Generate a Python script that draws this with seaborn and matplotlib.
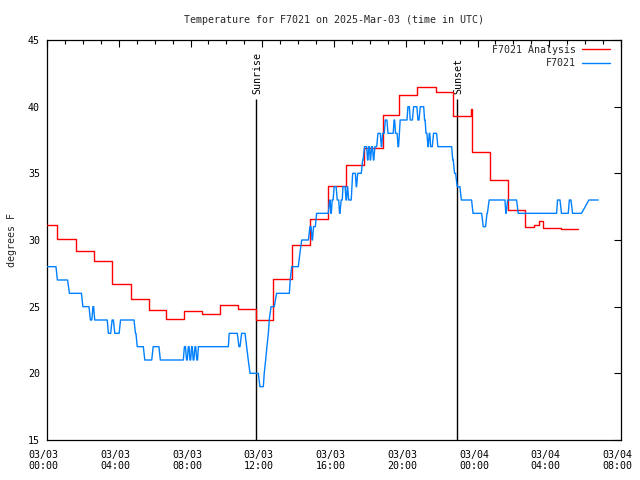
import numpy as np
import pandas as pd
import matplotlib
matplotlib.use("Agg")
import matplotlib.pyplot as plt
import matplotlib.transforms as mtransforms
import seaborn as sns

# ---------------- data (hours since 2025-03-03 00:00 UTC) ----------------
title = "Temperature for F7021 on 2025-Mar-03 (time in UTC)"
ylabel = "degrees F"

ana_label = "F7021 Analysis"
ana_hours = [0.00, 0.58, 1.63, 2.62, 3.64, 4.66, 5.69, 6.63, 7.65, 8.66, 9.64,
             10.66, 11.65, 12.61, 13.64, 14.66, 15.64, 16.67, 17.67, 18.71,
             19.64, 20.64, 21.67, 22.65, 23.62, 23.67, 24.69, 25.71, 26.64,
             27.15, 27.45, 27.65, 28.65, 29.62]
ana_temp = [31.1, 30.05, 29.15, 28.4, 26.7, 25.6, 24.75, 24.05, 24.65, 24.45,
            25.15, 24.8, 24.0, 27.1, 29.6, 31.55, 34.05, 35.6, 36.9, 39.4,
            40.9, 41.5, 41.1, 39.3, 39.8, 36.6, 34.5, 32.25, 30.95, 31.1,
            31.4, 30.9, 30.8, 30.8]

obs_label = "F7021"
obs_start = [0.00, 0.58, 1.25, 2.00, 2.42, 2.56, 2.66, 3.42, 3.63, 3.78, 4.10,
             4.93, 5.03, 5.45, 5.92, 6.32, 7.66, 7.78, 7.88, 7.97, 8.06, 8.15,
             8.25, 8.35, 8.44, 10.16, 10.70, 10.85, 11.13, 11.22, 11.32, 11.87,
             12.11, 12.19, 12.26, 12.34, 12.39, 12.49, 12.80, 13.56, 13.64,
             14.10, 14.20, 14.66, 14.78, 14.86, 15.03, 15.76, 15.83, 15.90,
             16.01, 16.18, 16.31, 16.40, 16.50, 16.67, 16.74, 16.82, 17.04,
             17.24, 17.32, 17.60, 17.70, 17.87, 17.94, 18.02, 18.10, 18.20,
             18.28, 18.45, 18.64, 18.71, 18.86, 19.01, 19.35, 19.43, 19.57,
             19.69, 20.12, 20.25, 20.44, 20.68, 20.81, 21.05, 21.13, 21.24,
             21.31, 21.39, 21.55, 21.79, 22.62, 22.72, 22.87, 23.10, 23.75,
             24.32, 24.53, 24.65, 25.58, 25.68, 26.27, 28.46, 28.68, 29.12,
             29.30, 30.21]
obs_end = [0.50, 1.15, 1.92, 2.34, 2.50, 2.60, 3.36, 3.55, 3.70, 4.02, 4.85,
           4.96, 5.37, 5.84, 6.24, 7.60, 7.72, 7.82, 7.92, 8.01, 8.10, 8.19,
           8.29, 8.39, 10.11, 10.61, 10.76, 11.04, 11.13, 11.22, 11.78, 12.06,
           12.11, 12.19, 12.26, 12.34, 12.39, 12.67, 13.51, 13.56, 14.01,
           14.10, 14.57, 14.72, 14.80, 14.96, 15.68, 15.78, 15.85, 15.95,
           16.12, 16.26, 16.33, 16.46, 16.62, 16.70, 16.76, 16.96, 17.19,
           17.26, 17.52, 17.62, 17.82, 17.89, 17.98, 18.04, 18.14, 18.22,
           18.38, 18.58, 18.66, 18.80, 18.95, 19.30, 19.38, 19.52, 19.60,
           20.07, 20.20, 20.37, 20.62, 20.74, 21.00, 21.08, 21.18, 21.26,
           21.34, 21.48, 21.72, 22.56, 22.65, 22.78, 23.02, 23.67, 24.23,
           24.45, 24.55, 25.53, 25.60, 26.18, 28.41, 28.60, 29.06, 29.21,
           29.80, 30.73]
obs_temp = [28, 27, 26, 25, 24, 25, 24, 23, 24, 23, 24,
            23, 22, 21, 22, 21, 22, 21, 22, 21, 22, 21,
            22, 21, 22, 23, 22, 23, 22, 21, 20, 19,
            20, 21, 22, 23, 24, 25, 26, 27, 28,
            29, 30, 31, 30, 31, 32, 33, 32, 33,
            34, 33, 32, 33, 34, 33, 34, 33, 35,
            34, 35, 36, 37, 36, 37, 36, 37, 36,
            37, 38, 37, 38, 39, 38, 39, 38, 37,
            39, 40, 39, 40, 39, 40, 39, 38, 37,
            38, 37, 38, 37, 36, 35, 34, 33, 32,
            31, 32, 33, 32, 33, 32, 33, 32, 33,
            32, 33]

event_labels = ["Sunrise", "Sunset"]
event_hours = [11.64, 22.88]

xtick_hours = [0, 4, 8, 12, 16, 20, 24, 28, 32]
xtick_labels = ["03/03\n00:00", "03/03\n04:00", "03/03\n08:00", "03/03\n12:00",
                "03/03\n16:00", "03/03\n20:00", "03/04\n00:00", "03/04\n04:00",
                "03/04\n08:00"]
yticks = [15, 20, 25, 30, 35, 40, 45]

# ---------------- tables ----------------
ana_df = pd.DataFrame({"hour": ana_hours, "temp": ana_temp})
obs_x, obs_y = [], []
for s, e, t in zip(obs_start, obs_end, obs_temp):
    obs_x += [s, e]
    obs_y += [t, t]
obs_df = pd.DataFrame({"hour": obs_x, "temp": obs_y})

# ---------------- style ----------------
sns.set_theme(style="white")
plt.rcParams['font.family'] = ['DejaVu Sans Mono', 'DejaVu Sans']
plt.rcParams['font.size'] = 7.2
plt.rcParams['axes.edgecolor'] = 'black'
plt.rcParams['axes.linewidth'] = 0.9

fig = plt.figure(figsize=(6.4, 4.8), dpi=100)
ax = fig.add_axes([47 / 640, 40 / 480, 574 / 640, 400 / 480])

line_top = 40.57
ax.vlines(event_hours, 15, line_top, colors="black", linewidth=1.0, zorder=1)
for h, lab in zip(event_hours, event_labels):
    ax.text(h + 0.08, line_top + 0.4, lab, rotation=90, ha="center", va="bottom",
            fontsize=7.2, color="black")

sns.lineplot(data=ana_df, x="hour", y="temp", ax=ax, color="#ff0000",
             linewidth=1.0, drawstyle="steps-post", label=ana_label,
             estimator=None, sort=False, zorder=3)
sns.lineplot(data=obs_df, x="hour", y="temp", ax=ax, color="#0080ff",
             linewidth=1.0, label=obs_label, estimator=None, sort=False, zorder=4)

ax.set_xlim(0, 32)
ax.set_ylim(15, 45)
ax.set_xticks(xtick_hours)
ax.set_xticklabels(xtick_labels, linespacing=1.15)
ax.set_xticks(np.arange(0, 33, 1), minor=True)
ax.set_yticks(yticks)
ax.set_yticklabels([str(v) for v in yticks])
ax.tick_params(which="both", direction="in", top=True, right=True,
               color="black", width=0.8, labelsize=7.2, colors="black")
ax.tick_params(which="major", length=5)
ax.tick_params(which="minor", length=3)
ax.tick_params(axis="x", which="major", pad=7)
ax.tick_params(axis="y", which="major", pad=5)

shift = mtransforms.ScaledTranslation(-3.5 / 100, 0, fig.dpi_scale_trans)
for lab in ax.get_xticklabels():
    lab.set_transform(lab.get_transform() + shift)

ax.set_xlabel("")
ax.set_ylabel(ylabel, fontsize=7.2, labelpad=8)
ax.set_title(title, fontsize=7.2, pad=12)

ax.legend(loc="upper right", bbox_to_anchor=(0.9878, 0.9975), frameon=False,
          markerfirst=False, handlelength=2.8, fontsize=7.2, borderaxespad=0,
          labelspacing=0.35, handletextpad=0.6)

for sp in ax.spines.values():
    sp.set_visible(True)
    sp.set_color("black")

fig.savefig("out.png", dpi=100)
